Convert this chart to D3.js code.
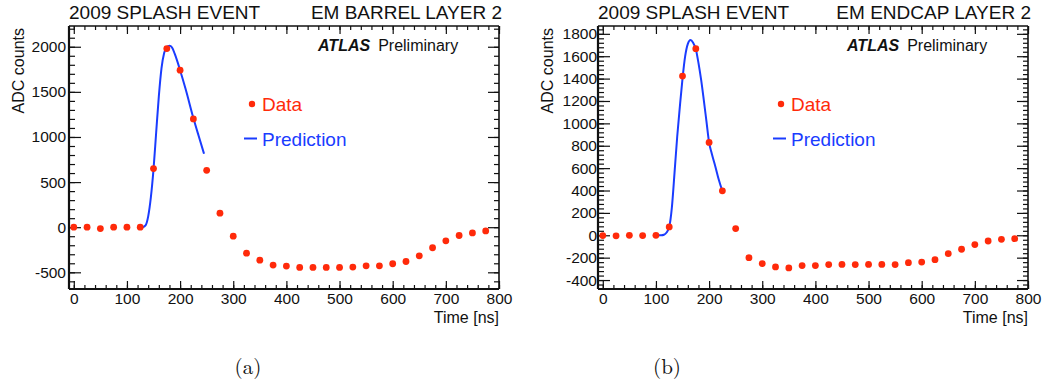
<!DOCTYPE html>
<html>
<head>
<meta charset="utf-8">
<script src="https://cdn.jsdelivr.net/npm/d3@7"></script>
<style>
  body { margin: 0; background: #fff; }
  text { font-family: "Liberation Sans", Arial, Helvetica, sans-serif; }
</style>
</head>
<body>
<div id="chart"></div>
<script>
// sample times (ns) of the data points
var timeNs = [0, 25, 50, 75, 100, 125, 150, 175, 200, 225, 250, 275, 300, 325, 350, 375,
              400, 425, 450, 475, 500, 525, 550, 575, 600, 625, 650, 675, 700, 725, 750, 775];

// ADC counts
var barrelData = [0, 0, -15, 0, 0, 0, 650, 1980, 1740, 1200, 630, 155, -100, -288, -365, -420,
                  -431, -446, -446, -446, -446, -442, -428, -428, -405, -380, -317, -228, -151, -92, -63, -41];
var endcapData = [-3, -5, 0, -3, 0, 75, 1423, 1667, 830, 397, 60, -200, -253, -283, -292, -271,
                  -271, -262, -260, -262, -260, -260, -262, -245, -239, -218, -164, -125, -83, -51, -36, -30];

// prediction curves
var barrelPredTime  = [130, 135, 140, 145, 150, 155, 160, 165, 170, 175, 180, 185, 190, 200, 210, 225, 235, 245];
var barrelPredValue = [0, 20, 120, 330, 640, 1050, 1450, 1760, 1930, 1995, 2010, 1990, 1920, 1740, 1540, 1210, 1010, 815];
var endcapPredTime  = [100, 110, 115, 120, 125, 130, 135, 140, 145, 150, 155, 160, 165, 170, 175, 180, 185, 190, 195, 200, 205, 212, 218, 225];
var endcapPredValue = [0, 0, 5, 25, 75, 250, 560, 880, 1150, 1400, 1600, 1710, 1745, 1720, 1665, 1540, 1390, 1210, 1020, 830, 730, 610, 500, 395];

// tick labels
var xTicks = [0, 100, 200, 300, 400, 500, 600, 700, 800];
var barrelYTicks = [-500, 0, 500, 1000, 1500, 2000];
var endcapYTicks = [-400, -200, 0, 200, 400, 600, 800, 1000, 1200, 1400, 1600, 1800];

var dataColor = '#ff2a0a';
var predColor = '#1a3cff';

var svg = d3.select('#chart')
  .append('svg')
  .attr('width', 1046)
  .attr('height', 381);

svg.append('rect').attr('width', 1046).attr('height', 381).attr('fill', '#fff');

var plotTop = 26, plotBottom = 289;

function styleAxis(sel, size) {
  sel.attr('font-family', null).attr('font-size', size);
  sel.select('.domain').remove();
  sel.selectAll('line').attr('stroke', '#111').attr('stroke-width', 1.2);
  sel.selectAll('text').attr('fill', '#111');
}

function drawPanel(p) {
  var x = d3.scaleLinear().domain([-9, 800]).range([p.left, p.right]);
  var y = d3.scaleLinear().domain(p.yDomain).range([plotBottom, plotTop]);
  var g = svg.append('g');

  var xMinor = d3.range(0, 801, 20);
  var yMinor = d3.range(p.minorStart, p.yDomain[1], p.minorStep);

  // bottom axis
  g.append('g').attr('transform', 'translate(0,' + plotBottom + ')')
    .call(d3.axisBottom(x).tickValues(xMinor).tickSize(-4).tickFormat(''))
    .call(styleAxis, 15.5);
  g.append('g').attr('transform', 'translate(0,' + plotBottom + ')')
    .call(d3.axisBottom(x).tickValues(xTicks).tickSize(-8).tickPadding(4).tickFormat(function(d) { return String(d); }))
    .call(styleAxis, 15.5);

  // top axis (mirrored ticks)
  g.append('g').attr('transform', 'translate(0,' + plotTop + ')')
    .call(d3.axisTop(x).tickValues(xMinor).tickSize(-4).tickFormat(''))
    .call(styleAxis, 15.5);
  g.append('g').attr('transform', 'translate(0,' + plotTop + ')')
    .call(d3.axisTop(x).tickValues(xTicks).tickSize(-8).tickFormat(''))
    .call(styleAxis, 15.5);

  // left axis
  g.append('g').attr('transform', 'translate(' + p.left + ',0)')
    .call(d3.axisLeft(y).tickValues(yMinor).tickSize(-6).tickFormat(''))
    .call(styleAxis, 15.5);
  g.append('g').attr('transform', 'translate(' + p.left + ',0)')
    .call(d3.axisLeft(y).tickValues(p.yTicks).tickSize(-12).tickPadding(p.yPad).tickFormat(function(d) { return String(d); }))
    .call(styleAxis, 15.5);

  // right axis (mirrored ticks)
  g.append('g').attr('transform', 'translate(' + p.right + ',0)')
    .call(d3.axisRight(y).tickValues(yMinor).tickSize(-5).tickFormat(''))
    .call(styleAxis, 15.5);
  g.append('g').attr('transform', 'translate(' + p.right + ',0)')
    .call(d3.axisRight(y).tickValues(p.yTicks).tickSize(-11).tickFormat(''))
    .call(styleAxis, 15.5);

  // frame
  g.append('line').attr('x1', p.left).attr('x2', p.right).attr('y1', plotTop).attr('y2', plotTop)
    .attr('stroke', '#111').attr('stroke-width', 1.4);
  g.append('line').attr('x1', p.right).attr('x2', p.right).attr('y1', plotTop).attr('y2', plotBottom)
    .attr('stroke', '#111').attr('stroke-width', 1.6);
  g.append('line').attr('x1', p.left).attr('x2', p.right).attr('y1', plotBottom).attr('y2', plotBottom)
    .attr('stroke', '#111').attr('stroke-width', 2.2);
  g.append('line').attr('x1', p.left).attr('x2', p.left).attr('y1', plotTop).attr('y2', plotBottom)
    .attr('stroke', '#111').attr('stroke-width', 2.2);

  // prediction curve
  var line = d3.line()
    .x(function(d) { return x(d[0]); })
    .y(function(d) { return y(d[1]); })
    .curve(d3.curveMonotoneX);
  g.append('path')
    .datum(p.predTime.map(function(t, i) { return [t, p.predValue[i]]; }))
    .attr('d', line)
    .attr('fill', 'none')
    .attr('stroke', predColor)
    .attr('stroke-width', 2);

  // data points
  g.selectAll('circle.pt')
    .data(timeNs.map(function(t, i) { return [t, p.data[i]]; }))
    .enter()
    .append('circle')
    .attr('class', 'pt')
    .attr('cx', function(d) { return x(d[0]); })
    .attr('cy', function(d) { return y(d[1]); })
    .attr('r', 3.4)
    .attr('fill', dataColor);

  // titles
  g.append('text').attr('x', p.left).attr('y', 19).attr('font-size', 19).attr('fill', '#111')
    .text('2009 SPLASH EVENT');
  g.append('text').attr('x', p.right + 3).attr('y', 19).attr('font-size', 19).attr('fill', '#111')
    .attr('text-anchor', 'end').text(p.title);

  // ATLAS Preliminary
  var atlas = g.append('text').attr('x', p.atlasX).attr('y', 51).attr('font-size', 16).attr('fill', '#111');
  atlas.append('tspan').attr('font-weight', 'bold').attr('font-style', 'italic').text('ATLAS');
  atlas.append('tspan').attr('dx', 8).text('Preliminary');

  // legend
  g.append('circle').attr('cx', p.legX + 8).attr('cy', 104).attr('r', 3.2).attr('fill', dataColor);
  g.append('text').attr('x', p.legX + 18).attr('y', 110.5).attr('font-size', 19).attr('fill', dataColor).text('Data');
  g.append('line').attr('x1', p.legX).attr('x2', p.legX + 13).attr('y1', 138.5).attr('y2', 138.5)
    .attr('stroke', predColor).attr('stroke-width', 2);
  g.append('text').attr('x', p.legX + 18).attr('y', 145.5).attr('font-size', 19).attr('fill', predColor).text('Prediction');

  // axis titles
  g.append('text').attr('x', p.right).attr('y', 322.5).attr('font-size', 16).attr('fill', '#111')
    .attr('text-anchor', 'end').text('Time [ns]');
  g.append('text').attr('transform', 'translate(' + p.yLabelX + ',' + 28 + ') rotate(-90)')
    .attr('font-size', 16).attr('fill', '#111').attr('text-anchor', 'end').text('ADC counts');

  // caption
  g.append('text').attr('x', p.captionX).attr('y', 374).attr('font-size', 21)
    .attr('text-anchor', 'middle').attr('fill', '#111')
    .style('font-family', '"Latin Modern Roman", "CMU Serif", "DejaVu Serif", serif')
    .text(p.caption);
}

drawPanel({
  left: 69, right: 499,
  yDomain: [-685, 2230], yTicks: barrelYTicks, minorStart: -600, minorStep: 100, yPad: 3,
  data: barrelData, predTime: barrelPredTime, predValue: barrelPredValue,
  title: 'EM BARREL LAYER 2', atlasX: 318, legX: 244, yLabelX: 24,
  captionX: 248, caption: '(a)'
});

drawPanel({
  left: 598, right: 1028,
  yDomain: [-480, 1870], yTicks: endcapYTicks, minorStart: -440, minorStep: 40, yPad: 1,
  data: endcapData, predTime: endcapPredTime, predValue: endcapPredValue,
  title: 'EM ENDCAP LAYER 2', atlasX: 847, legX: 773, yLabelX: 553,
  captionX: 667, caption: '(b)'
});
</script>
</body>
</html>
